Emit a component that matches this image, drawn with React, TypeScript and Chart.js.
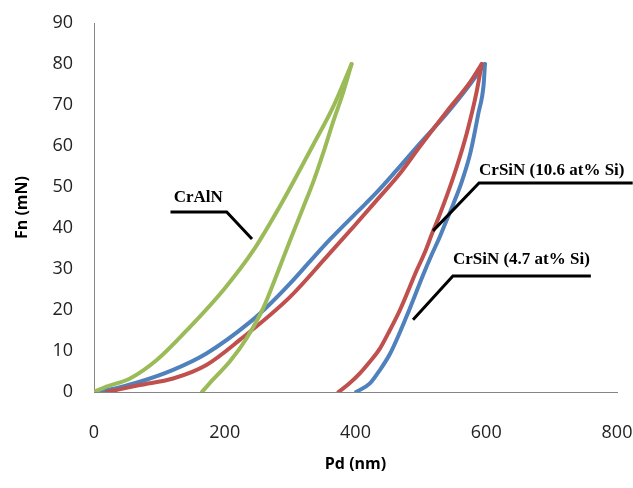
import React, { useEffect, useRef } from "react";
import { Chart, registerables } from "chart.js";

Chart.register(...registerables);

// ---- data (Pd in nm, Fn in mN) ----
const xTickValues = [0, 200, 400, 600, 800];
const yTickValues = [0, 10, 20, 30, 40, 50, 60, 70, 80, 90];

// CrAlN
const crAlNLoadX = [0, 19, 55, 96, 147, 198, 244, 285, 336, 366, 394];
const crAlNLoadY = [0, 1.3, 3.3, 7.8, 15.9, 24.9, 34.6, 45.5, 60.5, 69.6, 80];
const crAlNUnloadX = [394, 380, 366, 350, 336, 320, 300, 280, 259, 233, 208, 183, 165];
const crAlNUnloadY = [80, 72.5, 66, 58, 51.5, 45, 37, 28.8, 20.5, 13, 7.5, 3.2, 0];

// CrSiN (10.6 at% Si)
const crSiN106LoadX = [20, 70, 121, 172, 223, 300, 356, 397, 437, 468, 499, 540, 575, 593];
const crSiN106LoadY = [0, 1.7, 3.3, 6.6, 12.7, 23.2, 33, 40.3, 47.6, 53.3, 60, 68.5, 75.5, 80];
const crSiN106UnloadX = [593, 585, 570, 555, 540, 527, 518, 506, 494, 468, 450, 437, 420, 407, 390, 374];
const crSiN106UnloadY = [80, 73, 63, 55, 48, 42.5, 39, 34, 29.8, 20, 14.3, 10.5, 7, 4.6, 2, 0];

// CrSiN (4.7 at% Si)
const crSiN47LoadX = [5, 40, 70, 121, 172, 239, 270, 300, 330, 361, 402, 432, 463, 499, 540, 575, 598];
const crSiN47LoadY = [0, 1.2, 2.5, 5.4, 9.4, 17.1, 21.6, 26.5, 31.8, 37.2, 43.8, 48.6, 54.1, 60.7, 68, 75, 80];
const crSiN47UnloadX = [598, 596, 588, 576, 563, 550, 537, 528, 516, 504, 478, 453, 437, 422, 401];
const crSiN47UnloadY = [80, 75, 68, 58.5, 51.5, 46, 41, 37.5, 33.3, 28.8, 18.4, 9.4, 5.3, 2.1, 0];

const seriesNames = ["CrAlN", "CrSiN (10.6 at% Si)", "CrSiN (4.7 at% Si)"];
const seriesColors = ["#9BBB59", "#C0504D", "#4F81BD"];

// callouts: label text, label anchor and leader polyline, in data units
const calloutTexts = ["CrAlN", "CrSiN (10.6 at% Si)", "CrSiN (4.7 at% Si)"];
const calloutTextAt = [[122, 47.3], [589, 54.1], [549, 32.2]];
const calloutPaths = [
  [[117, 43.9], [203, 43.9], [241.7, 37.3]],
  [[824, 51], [589, 51], [518.5, 39.3]],
  [[760, 28.3], [549, 28.3], [488, 17.6]],
];

const toPoints = (xs: number[], ys: number[]) => xs.map((x, i) => ({ x, y: ys[i] }));

const calloutPlugin = {
  id: "callouts",
  afterDatasetsDraw(chart: any) {
    const { ctx, scales } = chart;
    const sx = scales.x, sy = scales.y;
    ctx.save();
    ctx.strokeStyle = "#000";
    ctx.lineWidth = 3;
    ctx.lineJoin = "miter";
    ctx.fillStyle = "#000";
    ctx.font = "bold 17px 'Liberation Serif', 'Times New Roman', serif";
    ctx.textBaseline = "middle";
    ctx.textAlign = "left";
    calloutTexts.forEach((t, i) => {
      ctx.beginPath();
      calloutPaths[i].forEach(([x, y], k) => {
        const px = sx.getPixelForValue(x);
        const py = sy.getPixelForValue(y);
        if (k === 0) ctx.moveTo(px, py);
        else ctx.lineTo(px, py);
      });
      ctx.stroke();
      const [lx, ly] = calloutTextAt[i];
      ctx.fillText(t, sx.getPixelForValue(lx), sy.getPixelForValue(ly));
    });
    ctx.restore();
  },
};

export default function App() {
  const ref = useRef<HTMLCanvasElement | null>(null);

  useEffect(() => {
    if (!ref.current) return;
    const curves = [
      { s: 0, d: toPoints(crAlNLoadX, crAlNLoadY) },
      { s: 0, d: toPoints(crAlNUnloadX, crAlNUnloadY) },
      { s: 1, d: toPoints(crSiN106LoadX, crSiN106LoadY) },
      { s: 1, d: toPoints(crSiN106UnloadX, crSiN106UnloadY) },
      { s: 2, d: toPoints(crSiN47LoadX, crSiN47LoadY) },
      { s: 2, d: toPoints(crSiN47UnloadX, crSiN47UnloadY) },
    ];
    const tickFont = { family: "'Open Sans', sans-serif", size: 18 };
    const titleFont = { family: "'Open Sans', sans-serif", size: 16, weight: "bold" };
    const chart = new Chart(ref.current, {
      type: "scatter",
      data: {
        datasets: curves.map((c) => ({
          label: seriesNames[c.s],
          data: c.d,
          showLine: true,
          borderColor: seriesColors[c.s],
          backgroundColor: seriesColors[c.s],
          borderWidth: 4,
          pointRadius: 0,
          cubicInterpolationMode: "monotone",
          borderCapStyle: "round",
          borderJoinStyle: "round",
        })),
      },
      options: {
        responsive: false,
        animation: false,
        layout: { padding: { left: 0, right: 16, top: 23, bottom: 0 } },
        plugins: {
          legend: { display: false },
          tooltip: { enabled: false },
        },
        scales: {
          x: {
            type: "linear",
            min: 0,
            max: 800,
            afterBuildTicks: (s: any) => {
              s.ticks = xTickValues.map((v) => ({ value: v }));
            },
            afterFit: (s: any) => {
              s.height = 96;
            },
            grid: { display: false, drawTicks: true, tickLength: 30 },
            border: { display: true, color: "#868686", width: 1 },
            ticks: { padding: 0, color: "#222", font: tickFont },
            title: {
              display: true,
              text: "Pd (nm)",
              color: "#000",
              font: titleFont,
              padding: { top: 0, bottom: 14 },
            },
          },
          y: {
            type: "linear",
            min: 0,
            max: 90,
            afterBuildTicks: (s: any) => {
              s.ticks = yTickValues.map((v) => ({ value: v }));
            },
            afterFit: (s: any) => {
              s.width = 94;
            },
            grid: { display: false, drawTicks: true, tickLength: 21 },
            border: { display: true, color: "#868686", width: 1 },
            ticks: { padding: 0, color: "#222", font: tickFont },
            title: {
              display: true,
              text: "Fn (mN)",
              color: "#000",
              font: titleFont,
              padding: { top: 13, bottom: 0 },
            },
          },
        },
      },
      plugins: [calloutPlugin],
    } as any);
    return () => chart.destroy();
  }, []);

  return (
    <div style={{ position: "absolute", left: 0, top: 0, width: 633, height: 488, background: "#fff" }}>
      <canvas ref={ref} width={633} height={488} />
    </div>
  );
}
